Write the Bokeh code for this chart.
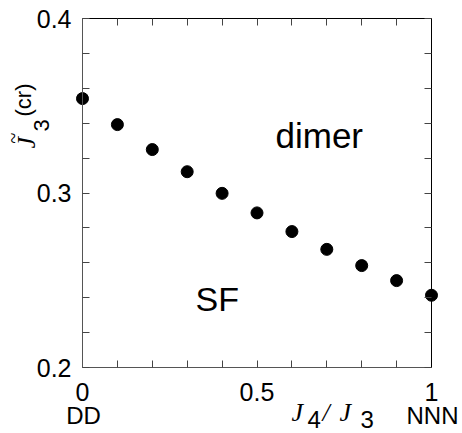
from bokeh.plotting import figure
from bokeh.models import Range1d, FixedTicker, LinearAxis, Label
from bokeh.embed import file_html
from bokeh.resources import INLINE
import math

# data
ratio = [0.0, 0.1, 0.2, 0.3, 0.4, 0.5, 0.6, 0.7, 0.8, 0.9, 1.0]
j3_cr = [0.3541, 0.3392, 0.3249, 0.3122, 0.2998, 0.2886, 0.2779, 0.2677, 0.2584, 0.2498, 0.2414]
x_major = [0, 0.5, 1]
x_minor = [0.1, 0.2, 0.3, 0.4, 0.6, 0.7, 0.8, 0.9]
x_labels = {0: "0", 0.5: "0.5", 1: "1"}
y_major = [0.2, 0.3, 0.4]
y_minor = [0.22, 0.24, 0.26, 0.28, 0.32, 0.34, 0.36, 0.38]
y_labels = {0.2: "0.2", 0.3: "0.3", 0.4: "0.4"}
x_lo, x_hi = 0.0, 1.0
y_lo, y_hi = 0.2, 0.4

W, H = 462, 433
# plot-box placement inside the window (pixels)
BL, BR, BT, BB = 82, 431, 18, 367
SANS = "Liberation Sans"
SERIF = "Liberation Serif"

sx = (x_hi - x_lo) / (BR - BL)
sy = (y_hi - y_lo) / (BB - BT)
p = figure(width=W, height=H, output_backend="svg", toolbar_location=None,
           x_range=Range1d(x_lo - BL * sx, x_hi + (W - BR) * sx),
           y_range=Range1d(y_lo - (H - BB) * sy, y_hi + BT * sy),
           x_axis_location=None, y_axis_location=None,
           min_border=0)
p.xgrid.visible = False
p.ygrid.visible = False
p.outline_line_color = None
p.background_fill_color = "white"
p.border_fill_color = "white"


def style(ax, ticks, minor, labels, show_labels, line_color, bounds):
    ax.bounds = bounds
    ax.major_tick_in = 7
    ax.major_tick_out = 0
    ax.minor_tick_in = 7
    ax.minor_tick_out = 0
    ax.major_tick_line_color = "#444444"
    ax.minor_tick_line_color = "#444444"
    ax.axis_line_color = line_color
    ax.axis_line_width = 1
    if show_labels:
        ax.ticker = FixedTicker(ticks=ticks, minor_ticks=minor)
        ax.major_label_overrides = labels
        ax.major_label_text_font = SANS
        ax.major_label_text_font_size = "25px"
        ax.major_label_text_color = "black"
    else:
        ax.ticker = FixedTicker(ticks=[], minor_ticks=sorted(ticks + minor))


bottom = LinearAxis(fixed_location=y_lo)
style(bottom, x_major, x_minor, x_labels, True, "#555555", (x_lo, x_hi))
bottom.major_label_standoff = 15
left = LinearAxis(fixed_location=x_lo)
style(left, y_major, y_minor, y_labels, True, "#555555", (y_lo, y_hi))
left.major_label_standoff = 11
top = LinearAxis(fixed_location=y_hi)
style(top, x_major, x_minor, x_labels, False, "black", (x_lo, x_hi))
right = LinearAxis(fixed_location=x_hi)
style(right, y_major, y_minor, y_labels, False, "black", (y_lo, y_hi))
p.add_layout(bottom, "below")
p.add_layout(left, "left")
p.add_layout(top, "above")
p.add_layout(right, "right")

p.scatter(ratio, j3_cr, size=12, color="black")

# region labels (data units)
p.add_layout(Label(x=0.553, y=0.333, text="dimer", text_font=SANS, text_font_size="35px",
                   text_align="left", text_baseline="alphabetic", text_color="black"))
p.add_layout(Label(x=0.324, y=0.239, text="SF", text_font=SANS, text_font_size="34px",
                   text_align="left", text_baseline="alphabetic", text_color="black"))

FUDGE = 0.375  # observed downward shift of the alphabetic anchor, in em


def lab(text, px, py, font, size, style="normal", angle=0.0, align="left"):
    # px, py: baseline position in window pixels from top-left
    off = FUDGE * size
    if angle:
        px -= off
    else:
        py -= off
    p.add_layout(Label(x=px, y=H - py, x_units="screen", y_units="screen", text=text,
                       text_font=font, text_font_size=f"{size}px", text_font_style=style,
                       angle=angle, text_align=align, text_baseline="alphabetic",
                       text_color="black"))


# x-axis end captions
lab("DD", 83, 424, SANS, 24, align="center")
lab("NNN", 432, 424, SANS, 24, align="center")

# x-axis title: J4 / J3
lab("J", 291, 422, SERIF, 26, "italic")
lab("4", 307, 428, SANS, 24)
lab("/", 322, 422, SERIF, 26, "italic")
lab("J", 339, 422, SERIF, 26, "italic")
lab("3", 360, 428, SANS, 24)

# y-axis title: J~3^(cr), rotated
a = math.pi / 2
lab("J", 36, 148, SERIF, 26, "italic", angle=a)
lab("~", 20, 143, SERIF, 20, angle=a)
lab("3", 49, 131, SANS, 22, angle=a)
lab("(cr)", 31, 116, SANS, 22, angle=a)

open("out.html", "w").write(file_html(p, INLINE))
